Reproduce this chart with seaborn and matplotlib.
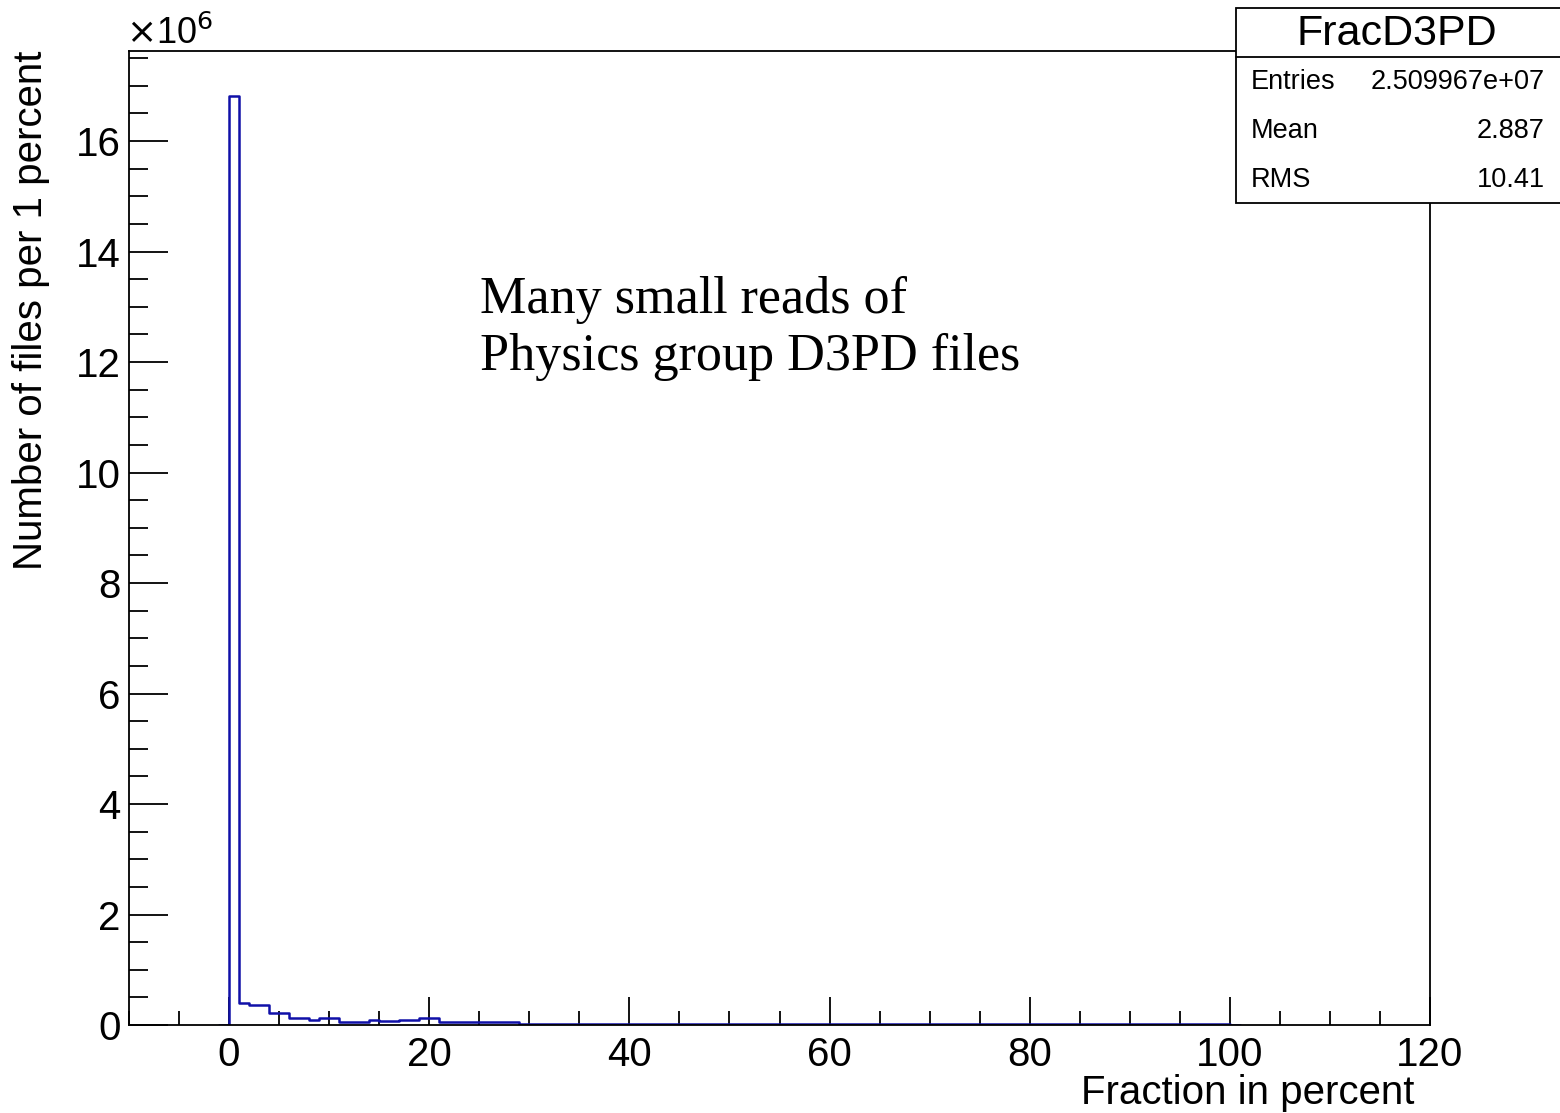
import numpy as np
import pandas as pd
import matplotlib
matplotlib.use("Agg")
import matplotlib.pyplot as plt
from matplotlib.patches import Rectangle
from matplotlib.ticker import MultipleLocator
import seaborn as sns

sns.set_style("ticks")
plt.rcParams["font.family"] = ["Liberation Sans", "DejaVu Sans"]
for key in ["text.color", "axes.labelcolor", "xtick.color", "ytick.color", "axes.edgecolor"]:
    plt.rcParams[key] = "black"

# bin contents in units of 1e6, one bin per percent (0..100)
bin_low = list(range(0, 100))
counts = ([16.81, 0.39, 0.36, 0.36, 0.21, 0.21, 0.13, 0.13, 0.09, 0.13,
           0.13, 0.06, 0.06, 0.06, 0.095, 0.065, 0.065, 0.095, 0.095, 0.13,
           0.13] + [0.06] * 8 + [0.025] * 71)

stats_title = "FracD3PD"
stats_rows = [("Entries", "2.509967e+07"), ("Mean", "2.887"), ("RMS", "10.41")]
note_lines = ["Many small reads of", "Physics group D3PD files"]

df = pd.DataFrame({"frac": np.array(bin_low) + 0.5, "n": counts})

W, H = 1560, 1113
fig = plt.figure(figsize=(W / 100, H / 100), dpi=100)
ax = fig.add_axes([129 / W, 1 - 1025 / H, (1430 - 129) / W, (1025 - 51) / H])

# empty bins on both sides so the outline closes down to zero like ROOT
sns.histplot(data=df, x="frac", weights="n", binwidth=1, binrange=(-1, 101),
             element="step", fill=False, color="#1010a8", linewidth=1.8, ax=ax)

ax.set_xlim(-10, 120)
ax.set_ylim(0, 17.63)
ax.xaxis.set_major_locator(MultipleLocator(20))
ax.xaxis.set_minor_locator(MultipleLocator(5))
ax.yaxis.set_major_locator(MultipleLocator(2))
ax.yaxis.set_minor_locator(MultipleLocator(0.5))
ax.tick_params(axis="y", which="major", direction="in", length=28, width=1.3,
               labelsize=29, pad=6)
ax.tick_params(axis="y", which="minor", direction="in", length=14, width=1.3)
ax.tick_params(axis="x", which="major", direction="in", length=20, width=1.3,
               labelsize=29, pad=8)
ax.tick_params(axis="x", which="minor", direction="in", length=10, width=1.3)
for s in ax.spines.values():
    s.set_linewidth(1.3)
    s.set_visible(True)

ax.set_xlabel("Fraction in percent", fontsize=29, loc="right")
ax.set_ylabel("Number of files per 1 percent", fontsize=29, loc="top")
ax.xaxis.set_label_coords((1414 - 129) / 1301, -0.050)
ax.yaxis.set_label_coords((50 - 129) / 1301, 1.0)


def fx(px):
    return px / W


def fy(py):
    return 1 - py / H


fig.text(fx(126), fy(44), r"$\times$10$^{6}$", fontsize=26, ha="left", va="baseline")

for i, line in enumerate(note_lines):
    fig.text(fx(480), fy(313 + i * 57), line, fontsize=37.5,
             family=["Liberation Serif", "DejaVu Serif"], ha="left", va="baseline")

# stats box (ROOT style), in pixel coords of the figure
box = Rectangle((fx(1236), fy(203)), fx(1600) - fx(1236), fy(8) - fy(203),
                transform=fig.transFigure, fill=True, facecolor="white",
                edgecolor="black", linewidth=1.3, clip_on=False)
fig.patches.append(box)
fig.add_artist(plt.Line2D([fx(1236), fx(1600)], [fy(57), fy(57)],
                          transform=fig.transFigure, color="black", linewidth=1.3))
fig.text(fx(1397), fy(34), stats_title, fontsize=31, ha="center", va="center")
for i, (k, v) in enumerate(stats_rows):
    yy = fy(82 + i * 49)
    fig.text(fx(1251), yy, k, fontsize=19.5, ha="left", va="center")
    fig.text(fx(1545), yy, v, fontsize=19.5, ha="right", va="center")

fig.savefig("out.png", dpi=100)
